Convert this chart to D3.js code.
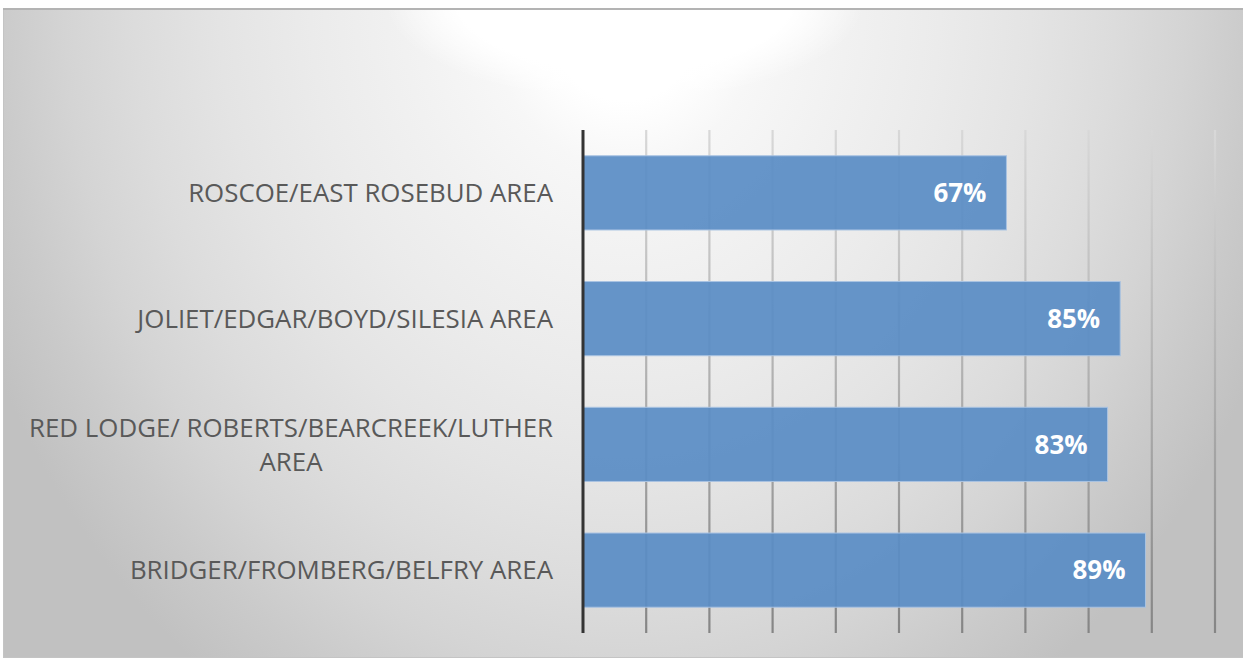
<!DOCTYPE html>
<html><head><meta charset="utf-8">
<script src="https://cdn.jsdelivr.net/npm/d3@7"></script>
<style>html,body{margin:0;padding:0;background:#fff;overflow:hidden}</style>
</head><body>
<script>
const categories = [
  "ROSCOE/EAST ROSEBUD AREA",
  "JOLIET/EDGAR/BOYD/SILESIA AREA",
  "RED LODGE/ ROBERTS/BEARCREEK/LUTHER AREA",
  "BRIDGER/FROMBERG/BELFRY AREA"
];
const categoryLines = [
  ["ROSCOE/EAST ROSEBUD AREA"],
  ["JOLIET/EDGAR/BOYD/SILESIA AREA"],
  ["RED LODGE/ ROBERTS/BEARCREEK/LUTHER", "AREA"],
  ["BRIDGER/FROMBERG/BELFRY AREA"]
];
const values = [0.67, 0.85, 0.83, 0.89];
const tickValues = [0,0.1,0.2,0.3,0.4,0.5,0.6,0.7,0.8,0.9,1.0];

const W = 1243, H = 663;
const svg = d3.select("body").append("svg").attr("width", W).attr("height", H);
const defs = svg.append("defs");

const bg = defs.append("radialGradient").attr("id","bg")
  .attr("gradientUnits","userSpaceOnUse")
  .attr("cx",625).attr("cy",0).attr("r",700).attr("fx",625).attr("fy",0)
  .attr("gradientTransform","translate(625,0) scale(1,1.2) translate(-625,0)");
[[0,"#ffffff"],[0.12,"#ffffff"],[0.2,"#f7f7f7"],[0.32,"#f1f1f1"],[0.45,"#ebebeb"],[0.58,"#e4e4e4"],[0.7,"#dcdcdc"],[0.8,"#d4d4d4"],[0.9,"#cacaca"],[1,"#c1c1c1"]]
  .forEach(([o,c]) => bg.append("stop").attr("offset",o).attr("stop-color",c));

const glow = defs.append("radialGradient").attr("id","glow")
  .attr("gradientUnits","userSpaceOnUse")
  .attr("cx",625).attr("cy",0).attr("r",240).attr("fx",625).attr("fy",0)
  .attr("gradientTransform","translate(625,0) scale(1,0.42) translate(-625,0)");
[[0,"#ffffff",1],[0.7,"#ffffff",1],[1,"#ffffff",0]]
  .forEach(([o,c,a]) => glow.append("stop").attr("offset",o).attr("stop-color",c).attr("stop-opacity",a));

const gl = defs.append("linearGradient").attr("id","grid")
  .attr("gradientUnits","userSpaceOnUse").attr("x1",0).attr("y1",130).attr("x2",0).attr("y2",633);
[[0,"#d8d8d8"],[0.5,"#b0b0b0"],[1,"#858585"]]
  .forEach(([o,c]) => gl.append("stop").attr("offset",o).attr("stop-color",c));

// chart area
svg.append("rect").attr("x",3.5).attr("y",8.5).attr("width",W).attr("height",649)
  .attr("fill","url(#bg)").attr("stroke","#c4c4c4").attr("stroke-width",1);
svg.append("rect").attr("x",4).attr("y",9).attr("width",W).attr("height",120)
  .attr("fill","url(#glow)");
svg.append("line").attr("x1",3).attr("x2",W).attr("y1",9).attr("y2",9).attr("stroke","#b3b3b3").attr("stroke-width",2);

const x = d3.scaleLinear().domain([0,1]).range([583,1215]);
const y = d3.scaleBand().domain(categories).range([130,633]).paddingInner(0.41).paddingOuter(0.205);

// gridlines
svg.append("g").selectAll("line").data(tickValues.slice(1)).join("line")
  .attr("x1",d=>x(d)).attr("x2",d=>x(d)).attr("y1",130).attr("y2",633)
  .attr("stroke","url(#grid)").attr("stroke-width",2.2);

// bars
svg.append("g").selectAll("rect").data(values).join("rect")
  .attr("x",x(0)).attr("y",(d,i)=>y(categories[i]))
  .attr("width",d=>x(d)-x(0)).attr("height",y.bandwidth())
  .attr("fill","#5a8dc5").attr("fill-opacity",0.93)
  .attr("stroke","#a9c3e2").attr("stroke-width",1);

// axis line
svg.append("line").attr("x1",x(0)).attr("x2",x(0)).attr("y1",130).attr("y2",633)
  .attr("stroke","#333333").attr("stroke-width",3);

// value labels
const vl = svg.append("g").selectAll("text").data(values).join("text")
  .attr("x",d=>x(d)-20).attr("y",(d,i)=>y(categories[i])+y.bandwidth()/2)
  .attr("dy","0.36em").attr("text-anchor","end")
  .attr("font-family","'Open Sans', Lato, sans-serif").attr("font-weight","bold")
  .attr("font-size",20).attr("fill","#ffffff")
  .text(d=>Math.round(d*100)+"%");
const vw = vl.node().getComputedTextLength();
vl.attr("font-size", 20*53/vw);

// category labels
const lg = svg.append("g").attr("font-family","'Open Sans', Lato, sans-serif")
  .attr("font-size",20).attr("fill","#595959");
const probe = lg.append("text").text(categoryLines[0][0]);
const fs = 20*365/probe.node().getComputedTextLength();
probe.remove();
lg.attr("font-size",fs);
categoryLines.forEach((lines,i)=>{
  const cy = y(categories[i]) + y.bandwidth()/2;
  const lh = 34;
  const t = lg.append("text").attr("text-anchor","middle");
  const spans = lines.map((s,j)=> t.append("tspan")
    .attr("y", cy + (j-(lines.length-1)/2)*lh).attr("dy","0.36em").text(s));
  const maxW = d3.max(spans, sp=>sp.node().getComputedTextLength());
  spans.forEach(sp=>sp.attr("x", 553 - maxW/2));
});
</script>
</body></html>
